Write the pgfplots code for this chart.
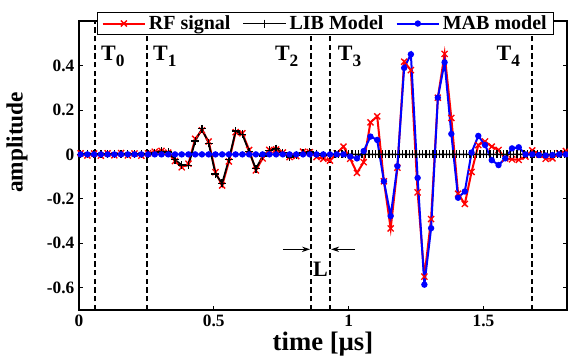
\documentclass[border=0pt]{standalone}
\usepackage{fontspec}
\setmainfont{Liberation Serif}
\usepackage{pgfplots}
\pgfplotsset{compat=1.18}
\usetikzlibrary{arrows.meta}
\begin{document}
\begin{tikzpicture}
\begin{axis}[
  at={(0pt,0pt)}, anchor=south west,
  scale only axis, width=366pt, height=216.75pt,
  xmin=0, xmax=1.81, ymin=-0.7, ymax=0.6,
  xtick={0,0.5,1,1.5}, xticklabels={0,0.5,1,1.5},
  ytick={-0.6,-0.4,-0.2,0,0.2,0.4}, yticklabels={-0.6,-0.4,-0.2,0,0.2,0.4},
  tick label style={font=\fontsize{13}{15}\selectfont\bfseries},
  tick align=inside, major tick length=3pt, tick style={black, line width=0.6pt},
  axis line style={line width=0.8pt},
  xlabel={time [µs]}, ylabel={amplitude},
  xlabel style={font=\fontsize{20}{22}\selectfont\bfseries, at={(axis description cs:0.5,-0.118)}, anchor=center},
  ylabel style={font=\fontsize{17.5}{20}\selectfont\bfseries, at={(axis description cs:-0.127,0.58)}, anchor=center},
  legend columns=3,
  legend style={at={(axis description cs:0.0369,1.032)}, anchor=north west,
    draw=black, line width=0.8pt, fill=white,
    font=\fontsize{15}{17}\selectfont\bfseries, inner xsep=3pt, inner ysep=0.5pt,
    /tikz/every even column/.append style={column sep=7pt}},
  legend image code/.code={\draw[mark repeat=2,mark phase=2,#1] plot coordinates {(0pt,0pt) (16pt,0pt) (32pt,0pt)};},
]
% dashed time markers
\addplot[forget plot, black, line width=1.4pt, dash pattern=on 4pt off 2.5pt] coordinates {(0.06,-0.7) (0.06,0.6)};
\addplot[forget plot, black, line width=1.4pt, dash pattern=on 4pt off 2.5pt] coordinates {(0.252,-0.7) (0.252,0.6)};
\addplot[forget plot, black, line width=1.4pt, dash pattern=on 4pt off 2.5pt] coordinates {(0.86,-0.7) (0.86,0.6)};
\addplot[forget plot, black, line width=1.4pt, dash pattern=on 4pt off 2.5pt] coordinates {(0.932,-0.7) (0.932,0.6)};
\addplot[forget plot, black, line width=1.4pt, dash pattern=on 4pt off 2.5pt] coordinates {(1.68,-0.7) (1.68,0.6)};

\addplot[red, line width=1.5pt, mark=x, mark size=3.2pt, mark options={line width=1pt}] table {
0.006 0.005
0.031 -0.005
0.056 0.004
0.081 -0.006
0.106 0.005
0.131 -0.004
0.156 0.006
0.181 -0.005
0.206 0.004
0.231 -0.006
0.256 0.005
0.281 0.012
0.306 0.016
0.331 0.008
0.356 -0.030
0.381 -0.058
0.406 -0.042
0.431 0.070
0.456 0.108
0.481 0.058
0.506 -0.080
0.531 -0.140
0.556 -0.032
0.581 0.100
0.606 0.095
0.631 0.020
0.656 -0.072
0.681 -0.018
0.706 0.020
0.731 0.022
0.756 0.008
0.781 -0.012
0.806 -0.008
0.831 0.012
0.856 0.010
0.881 -0.012
0.906 -0.020
0.931 -0.028
0.956 0.005
0.981 0.035
1.006 -0.020
1.031 -0.083
1.056 -0.035
1.081 0.144
1.106 0.171
1.131 -0.121
1.156 -0.333
1.181 -0.060
1.206 0.417
1.231 0.379
1.256 -0.171
1.281 -0.550
1.306 -0.291
1.331 0.255
1.356 0.452
1.381 0.164
1.406 -0.177
1.431 -0.223
1.456 -0.079
1.481 0.042
1.506 0.058
1.531 0.035
1.556 0.020
1.581 -0.018
1.606 -0.022
1.631 -0.025
1.656 -0.010
1.681 0.018
1.706 0.000
1.731 -0.020
1.756 -0.018
1.781 0.005
1.806 0.015
};
\addlegendentry{RF signal}

\addplot[black, line width=1.3pt, mark=+, mark size=3pt, mark options={line width=1pt}] table {
0.006 0
0.031 0.002
0.056 0
0.081 0.001
0.106 0
0.131 0.001
0.156 0
0.181 0.001
0.206 0
0.231 0.001
0.256 0.002
0.281 0.008
0.306 0.014
0.331 0.010
0.356 -0.024
0.381 -0.048
0.406 -0.050
0.431 0.060
0.456 0.115
0.481 0.050
0.506 -0.088
0.531 -0.130
0.556 -0.022
0.581 0.105
0.606 0.090
0.631 0.012
0.656 -0.065
0.681 -0.008
0.706 0.018
0.731 0.026
0.756 0.008
0.781 -0.012
0.806 -0.005
0.831 0.006
0.856 0.010
0.881 0.003
0.906 -0.004
0.931 0.000
0.95 0
0.9625 0
0.975 0
0.9875 0
1.0 0
1.0125 0
1.025 0
1.0375 0
1.05 0
1.0625 0
1.075 0
1.0875 0
1.1 0
1.1125 0
1.125 0
1.1375 0
1.15 0
1.1625 0
1.175 0
1.1875 0
1.2 0
1.2125 0
1.225 0
1.2375 0
1.25 0
1.2625 0
1.275 0
1.2875 0
1.3 0
1.3125 0
1.325 0
1.3375 0
1.35 0
1.3625 0
1.375 0
1.3875 0
1.4 0
1.4125 0
1.425 0
1.4375 0
1.45 0
1.4625 0
1.475 0
1.4875 0
1.5 0
1.5125 0
1.525 0
1.5375 0
1.55 0
1.5625 0
1.575 0
1.5875 0
1.6 0
1.6125 0
1.625 0
1.6375 0
1.65 0
1.6625 0
1.675 0
1.6875 0
1.7 0
1.7125 0
1.725 0
1.7375 0
1.75 0
1.7625 0
1.775 0
1.7875 0
1.8 0
};
\addlegendentry{LIB Model}

\addplot[blue, line width=1.5pt, mark=*, mark size=1.6pt] table {
0.006 0
0.031 0
0.056 0
0.081 0
0.106 0
0.131 0
0.156 0
0.181 0
0.206 0
0.231 0
0.256 0
0.281 0
0.306 0
0.331 0
0.356 0
0.381 0
0.406 0
0.431 0
0.456 0
0.481 0
0.506 0
0.531 0
0.556 0
0.581 0
0.606 0
0.631 0
0.656 0
0.681 0
0.706 0
0.731 0
0.756 0
0.781 0
0.806 0
0.831 0
0.856 0
0.881 0
0.906 0
0.931 0
0.956 0
0.981 0.000
1.006 -0.010
1.031 -0.018
1.056 0.015
1.081 0.080
1.106 0.065
1.131 -0.121
1.156 -0.277
1.181 -0.053
1.206 0.389
1.231 0.450
1.256 -0.106
1.281 -0.586
1.306 -0.332
1.331 0.255
1.356 0.414
1.381 0.092
1.406 -0.195
1.431 -0.167
1.456 0.008
1.481 0.083
1.506 0.042
1.531 -0.026
1.556 -0.048
1.581 -0.018
1.606 0.027
1.631 0.032
1.656 0.000
1.681 0.000
1.706 -0.003
1.731 -0.005
1.756 -0.003
1.781 0.000
1.806 0.000
};
\addlegendentry{MAB model}

% annotations
\node[anchor=north west, inner sep=0pt] at (axis cs:0.081,0.49) {\fontsize{16.5}{16}\selectfont\bfseries T\raisebox{-0.6ex}{\fontsize{13}{13}\selectfont 0}};
\node[anchor=north west, inner sep=0pt] at (axis cs:0.274,0.49) {\fontsize{16.5}{16}\selectfont\bfseries T\raisebox{-0.6ex}{\fontsize{13}{13}\selectfont 1}};
\node[anchor=north west, inner sep=0pt] at (axis cs:0.726,0.49) {\fontsize{16.5}{16}\selectfont\bfseries T\raisebox{-0.6ex}{\fontsize{13}{13}\selectfont 2}};
\node[anchor=north west, inner sep=0pt] at (axis cs:0.959,0.49) {\fontsize{16.5}{16}\selectfont\bfseries T\raisebox{-0.6ex}{\fontsize{13}{13}\selectfont 3}};
\node[anchor=north west, inner sep=0pt] at (axis cs:1.548,0.49) {\fontsize{16.5}{16}\selectfont\bfseries T\raisebox{-0.6ex}{\fontsize{13}{13}\selectfont 4}};
\draw[-{Stealth[length=6pt,width=4pt]}, line width=0.7pt] (axis cs:0.756,-0.427) -- (axis cs:0.857,-0.427);
\draw[-{Stealth[length=6pt,width=4pt]}, line width=0.7pt] (axis cs:1.022,-0.427) -- (axis cs:0.935,-0.427);
\node[inner sep=0pt] at (axis cs:0.896,-0.518) {\fontsize{16.5}{16}\selectfont\bfseries L};
\end{axis}
\pgfresetboundingbox
\useasboundingbox (-59.25pt,-34.5pt) rectangle (366.75pt,232.5pt);
\end{tikzpicture}
\end{document}
